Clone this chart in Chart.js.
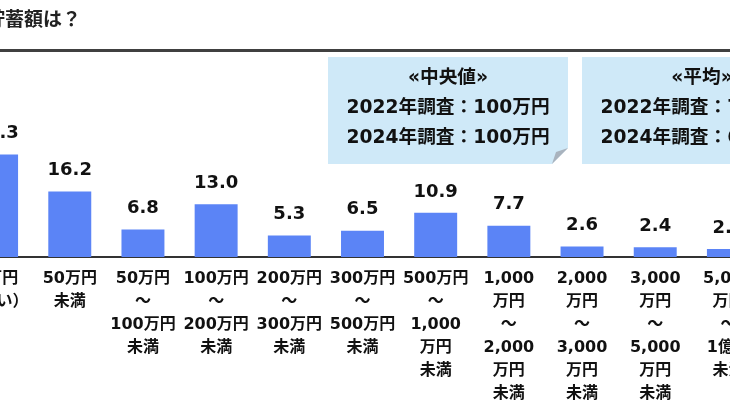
<!DOCTYPE html>
<html lang="ja">
<head>
<meta charset="utf-8">
<script src="https://cdn.jsdelivr.net/npm/chart.js@4/dist/chart.umd.min.js"></script>
<style>
  html, body { margin: 0; padding: 0; background: #fff; }
  #wrap { position: relative; width: 730px; height: 410px; overflow: hidden; }
  #chart { position: absolute; left: -40px; top: 0; }
</style>
</head>
<body>
<div id="wrap">
  <canvas id="chart" width="805" height="410"></canvas>
</div>
<script>
// ── Data ───────────────────────────────────────────────
const CATEGORIES = [
  ['0万円', '（ない）'],
  ['50万円', '未満'],
  ['50万円', '～', '100万円', '未満'],
  ['100万円', '～', '200万円', '未満'],
  ['200万円', '～', '300万円', '未満'],
  ['300万円', '～', '500万円', '未満'],
  ['500万円', '～', '1,000', '万円', '未満'],
  ['1,000', '万円', '～', '2,000', '万円', '未満'],
  ['2,000', '万円', '～', '3,000', '万円', '未満'],
  ['3,000', '万円', '～', '5,000', '万円', '未満'],
  ['5,000', '万円', '～', '1億円', '未満']
];
const SHARES = [25.3, 16.2, 6.8, 13.0, 5.3, 6.5, 10.9, 7.7, 2.6, 2.4, 2.0];

const TITLE = 'の貯蓄額は？';
const MEDIAN_LINES = ['«中央値»', '2022年調査：100万円', '2024年調査：100万円'];
const MEAN_LINES   = ['«平均»', '2022年調査：730万円', '2024年調査：650万円'];

// ── Styles ─────────────────────────────────────────────
const SHIFT     = 40;              // canvas sits 40px left of the page
const BAR_COLOR = '#5b84f6';
const INK       = '#111';
const BOX_FILL  = '#cfe9f8';
const FOLD_FILL = '#a9b3be';
const FONT      = "'DejaVu Sans', 'Noto Sans CJK JP', sans-serif";

// ── Overlay: title, rule, note boxes, value labels ─────
function noteBox(ctx, x, y, w, h, lines) {
  ctx.fillStyle = BOX_FILL;
  ctx.beginPath();
  ctx.moveTo(x, y);
  ctx.lineTo(x + w, y);
  ctx.lineTo(x + w, y + h - 16);
  ctx.lineTo(x + w - 16, y + h);
  ctx.lineTo(x, y + h);
  ctx.closePath();
  ctx.fill();

  ctx.fillStyle = FOLD_FILL;
  ctx.beginPath();
  ctx.moveTo(x + w, y + h - 16);
  ctx.lineTo(x + w - 16, y + h);
  ctx.lineTo(x + w - 12, y + h - 12);
  ctx.closePath();
  ctx.fill();

  ctx.fillStyle = INK;
  ctx.textAlign = 'center';
  ctx.textBaseline = 'middle';
  ctx.font = 'bold 18.7px ' + FONT;
  const cx = x + w / 2;
  ctx.fillText(lines[0], cx, y + 21);
  ctx.fillText(lines[1], cx, y + 51);
  ctx.fillText(lines[2], cx, y + 81);
}

const overlay = {
  id: 'overlay',
  afterDraw(chart) {
    const ctx = chart.ctx;
    ctx.save();

    // title, cut at the left edge like the source
    ctx.fillStyle = '#222';
    ctx.font = 'bold 19px ' + FONT;
    ctx.textAlign = 'right';
    ctx.textBaseline = 'middle';
    ctx.fillText(TITLE, SHIFT + 81, 21);

    // rule under title
    ctx.fillStyle = '#404040';
    ctx.fillRect(0, 49, chart.width, 3);

    noteBox(ctx, SHIFT + 328, 57, 240, 107, MEDIAN_LINES);
    noteBox(ctx, SHIFT + 582, 57, 240, 107, MEAN_LINES);

    // value labels above bars
    ctx.fillStyle = INK;
    ctx.font = 'bold 18px ' + FONT;
    ctx.textAlign = 'center';
    ctx.textBaseline = 'middle';
    chart.getDatasetMeta(0).data.forEach((bar, i) => {
      ctx.fillText(SHARES[i].toFixed(1), bar.x, bar.y - 21);
    });

    ctx.restore();
  }
};

// ── Chart ──────────────────────────────────────────────
new Chart(document.getElementById('chart').getContext('2d'), {
  type: 'bar',
  data: {
    labels: CATEGORIES,
    datasets: [{
      data: SHARES,
      backgroundColor: BAR_COLOR,
      barPercentage: 0.587,
      categoryPercentage: 1
    }]
  },
  options: {
    responsive: false,
    animation: false,
    devicePixelRatio: 1,
    layout: { padding: { top: 95, left: 0, right: 0, bottom: 0 } },
    plugins: { legend: { display: false }, tooltip: { enabled: false } },
    scales: {
      x: {
        grid: { display: false, drawTicks: false },
        border: { color: '#333', width: 2 },
        ticks: {
          color: INK,
          padding: 10,
          autoSkip: false,
          maxRotation: 0,
          font: { family: FONT, size: 16, weight: 'bold', lineHeight: 23 / 16 }
        },
        afterFit: s => {
          s.height = 153;
          s.paddingLeft = 0;
          s.paddingRight = 0;
        }
      },
      y: { display: false, min: 0, max: 40 }
    }
  },
  plugins: [overlay]
});
</script>
</body>
</html>
